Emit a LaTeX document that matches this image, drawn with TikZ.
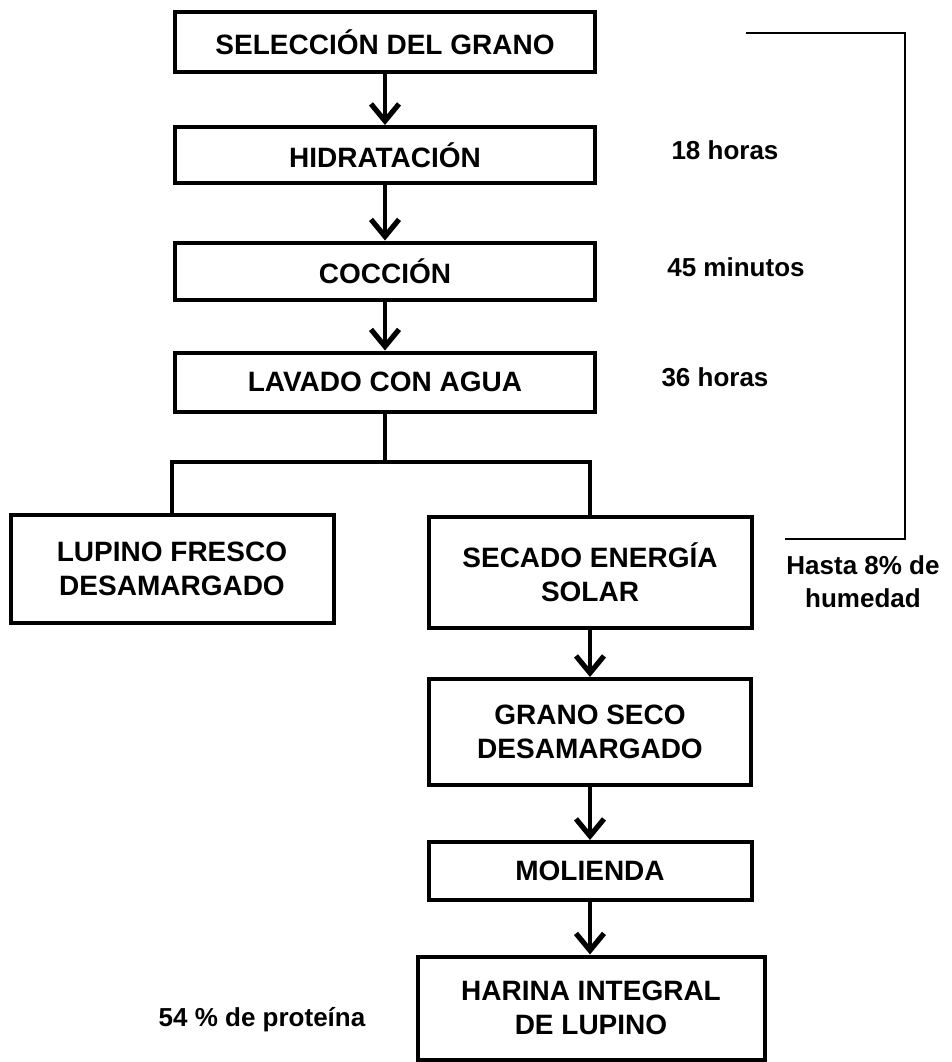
\documentclass[tikz,border=0pt]{standalone}
\usepackage{fontspec}
\setmainfont{Liberation Sans}
\usetikzlibrary{arrows.meta}

\begin{document}
\begin{tikzpicture}[x=0.5pt, y=-0.5pt,
  caja/.style={draw, line width=2pt, align=center, inner sep=0pt,
    font=\fontsize{14}{17}\selectfont\bfseries},
  nota/.style={align=center, font=\fontsize{13}{16.5}\selectfont\bfseries},
  flujo/.style={line width=1.8pt, -{Straight Barb[length=8.5pt, width=14pt, line width=2.6pt]}},
  linea/.style={line width=1.6pt},
  llave/.style={line width=1.2pt}]
  \useasboundingbox (0,0) rectangle (952,1062);

  \node[caja, minimum width=210pt, minimum height=30pt] (sel) at (385,42) {SELECCIÓN DEL GRANO};
  \node[caja, minimum width=210pt, minimum height=28pt] (hid) at (385,155) {HIDRATACIÓN};
  \node[caja, minimum width=210pt, minimum height=28.5pt] (coc) at (385,271) {COCCIÓN};
  \node[caja, minimum width=210pt, minimum height=29.5pt] (lav) at (385,382) {LAVADO CON AGUA};
  \node[caja, minimum width=161.5pt, minimum height=54pt] (lup) at (172,569) {LUPINO FRESCO\\DESAMARGADO};
  \node[caja, minimum width=161.5pt, minimum height=55.5pt] (sec) at (590,572) {SECADO ENERGÍA\\SOLAR};
  \node[caja, minimum width=161pt, minimum height=53pt] (gra) at (590,732) {GRANO SECO\\DESAMARGADO};
  \node[caja, minimum width=161.5pt, minimum height=29pt] (mol) at (590,871) {MOLIENDA};
  \node[caja, minimum width=173.5pt, minimum height=51.5pt] (har) at (591,1008) {HARINA INTEGRAL\\DE LUPINO};

  \node[nota] (t18) at (725,150) {18 horas};
  \node[nota] (t45) at (736,267) {45 minutos};
  \node[nota] (t36) at (715,377) {36 horas};
  \node[nota] (hum) at (863,582) {Hasta 8\% de\\humedad};
  \node[nota] (pro) at (262,1020) {54 \% de proteína};

  \draw[flujo] (sel) -- (hid);
  \draw[flujo] (hid) -- (coc);
  \draw[flujo] (coc) -- (lav);
  \coordinate (fork) at (385,462);
  \draw[linea] (lav) -- (fork);
  \draw[linea] (lup.north) |- (fork) -| (sec.north);
  \draw[flujo] (sec) -- (gra);
  \draw[flujo] (gra) -- (mol);
  \draw[flujo] (mol.south) -- (mol.south |- har.north);

  \coordinate (b1) at (746,33);
  \coordinate (b2) at (905,33);
  \coordinate (b3) at (905,539);
  \coordinate (b4) at (785,539);
  \draw[llave] (b1) -- (b2) -- (b3) -- (b4);
\end{tikzpicture}
\end{document}
